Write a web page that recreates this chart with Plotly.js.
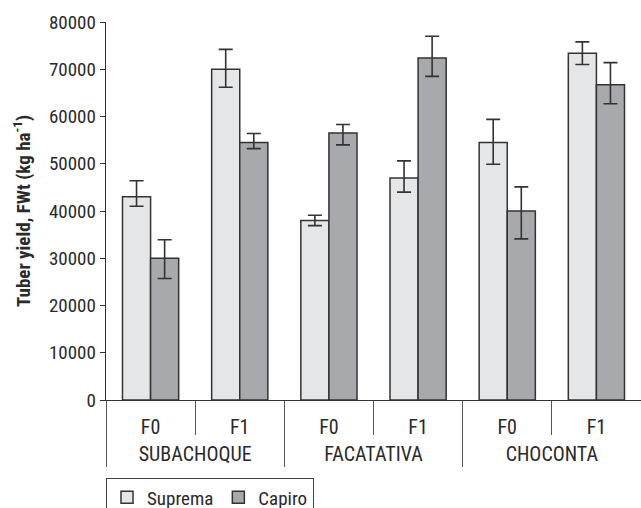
<!DOCTYPE html>
<html>
<head>
<meta charset="utf-8">
<script src="https://cdn.plot.ly/plotly-3.0.1.min.js"></script>
<style>html,body{margin:0;padding:0;background:#fff;}#chart{width:641px;height:508px;}</style>
</head>
<body>
<div id="chart"></div>
<script>
const locations = ["SUBACHOQUE","SUBACHOQUE","FACATATIVA","FACATATIVA","CHOCONTA","CHOCONTA"];
const fertilization = ["F0","F1","F0","F1","F0","F1"];
const suprema = [43000, 70000, 38000, 47000, 54500, 73400];
const supremaErrPlus = [3400, 4200, 1100, 3600, 4900, 2400];
const supremaErrMinus = [2000, 3800, 1100, 3000, 4600, 2400];
const capiro = [30000, 54500, 56500, 72400, 40000, 66700];
const capiroErrPlus = [3900, 1900, 1800, 4600, 5100, 4700];
const capiroErrMinus = [4300, 1300, 2500, 3900, 5900, 4000];

const FONT = '"Roboto Condensed", "Liberation Sans Narrow", "DejaVu Sans Condensed", sans-serif';
const INK = '#2a2a2a';

// invisible tall padding around the first-level labels so the location row sits lower, as in the reference
const PAD = "<span style='font-size:29px'>&nbsp;</span>";
const fertLabels = fertilization.map(f => PAD + f + PAD);

function errSpec(p, m) {
  return {type: 'data', symmetric: false, array: p, arrayminus: m,
          color: '#333', thickness: 1.6, width: 7};
}

const traces = [
  {type: 'bar', name: 'Suprema', x: [locations, fertLabels], y: suprema,
   marker: {color: '#e5e6e8', line: {color: '#333', width: 1.5}},
   error_y: errSpec(supremaErrPlus, supremaErrMinus)},
  {type: 'bar', name: 'Capiro', x: [locations, fertLabels], y: capiro,
   marker: {color: '#a8a9ac', line: {color: '#333', width: 1.5}},
   error_y: errSpec(capiroErrPlus, capiroErrMinus)}
];

const layout = {
  width: 641, height: 508,
  margin: {l: 106, r: 0, t: 22, b: 108, autoexpand: false},
  paper_bgcolor: '#fff', plot_bgcolor: '#fff',
  font: {family: FONT, size: 18, color: INK},
  barmode: 'group', bargap: 0.37, bargroupgap: 0,
  showlegend: true,
  legend: {orientation: 'h', xref: 'paper', x: 0, xanchor: 'left',
           yref: 'container', y: 0.06, yanchor: 'top', itemwidth: 30,
           bordercolor: '#444', borderwidth: 1, font: {family: FONT, size: 19, color: INK},
           traceorder: 'normal'},
  xaxis: {type: 'multicategory', automargin: false, showline: true, linecolor: '#333', linewidth: 1.3,
          ticks: 'outside', ticklen: 34, tickcolor: '#555', tickwidth: 1, ticklabelstandoff: 9,
          showdividers: true, dividercolor: '#555', dividerwidth: 1,
          tickfont: {family: FONT, size: 20, color: INK}, showgrid: false, zeroline: false},
  yaxis: {range: [0, 80000], dtick: 10000, tickformat: 'd', automargin: false, showline: true, linecolor: '#333', linewidth: 1.3,
          ticks: 'outside', ticklen: 5, tickcolor: '#333', showgrid: false, zeroline: false,
          tickfont: {family: FONT, size: 19, color: INK},
          title: {text: '<b>Tuber yield, FWt (kg ha<sup>-1</sup>)</b>', font: {family: FONT, size: 19, color: INK}, standoff: 13}}
};

Plotly.newPlot('chart', traces, layout, {displayModeBar: false, staticPlot: true});
</script>
</body>
</html>
